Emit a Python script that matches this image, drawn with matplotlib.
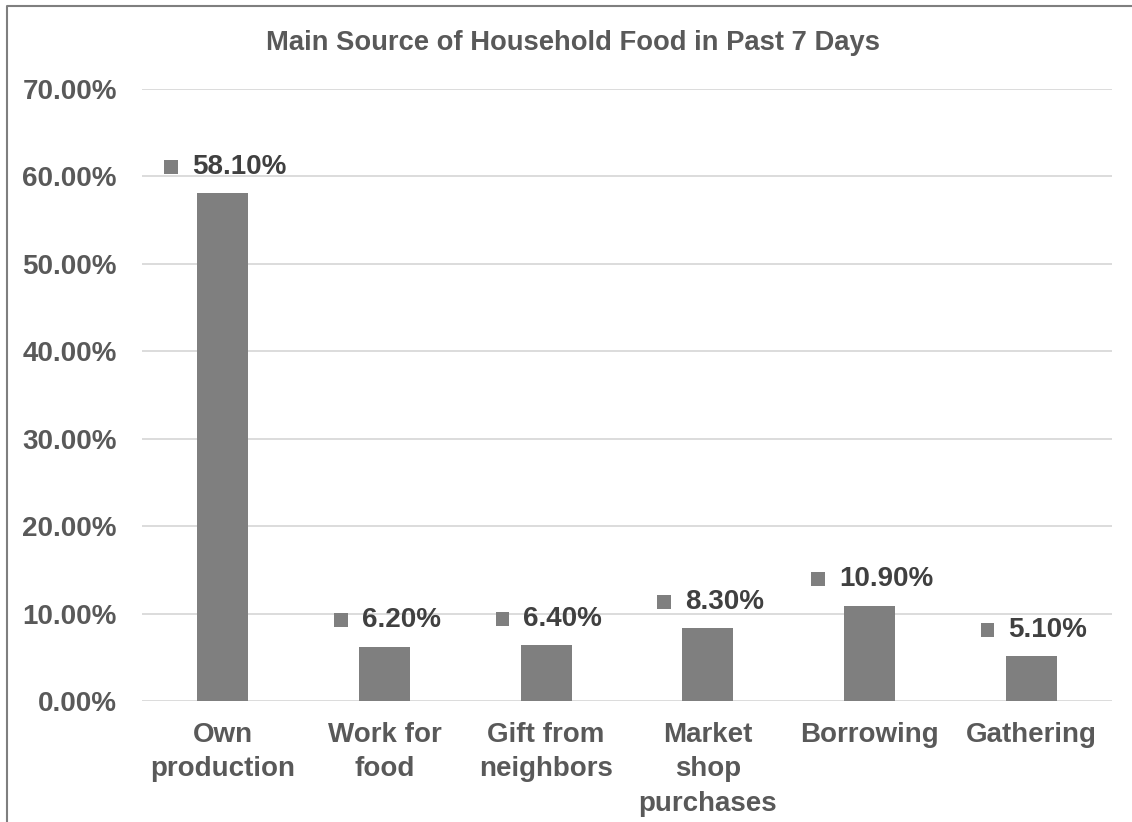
import matplotlib.pyplot as plt
from matplotlib.lines import Line2D
from matplotlib.patches import Rectangle
from matplotlib.offsetbox import AnnotationBbox, DrawingArea, HPacker, TextArea

plt.rcParams["font.family"] = ["Liberation Sans", "DejaVu Sans"]
plt.rcParams["font.weight"] = "bold"

categories = ["Own\nproduction", "Work for\nfood", "Gift from\nneighbors",
              "Market\nshop\npurchases", "Borrowing", "Gathering"]
shares = [0.581, 0.062, 0.064, 0.083, 0.109, 0.051]
yticks = [0.0, 0.1, 0.2, 0.3, 0.4, 0.5, 0.6, 0.7]

BAR = "#7f7f7f"
INK = "#595959"
LABEL_INK = "#404040"
GRID = "#d9d9d9"
FS = 20

fig = plt.figure(figsize=(11.32, 8.22), dpi=100)
ax = fig.add_axes([0.1254, 0.1472, 0.8569, 0.7445])

x = list(range(len(categories)))
ax.bar(x, shares, width=0.315, color=BAR, zorder=2)

ax.set_xlim(-0.5, len(categories) - 0.5)
ax.set_ylim(0, 0.7)
ax.set_yticks(yticks)
ax.set_yticklabels([f"{t * 100:.2f}%" for t in yticks])
ax.set_xticks(x)
ax.set_xticklabels(categories, linespacing=1.42)
ax.tick_params(axis="y", length=0, pad=18, labelsize=FS, labelcolor=INK)
ax.tick_params(axis="x", length=0, pad=15, labelsize=FS, labelcolor=INK)
ax.grid(axis="y", color=GRID, linewidth=1.3, zorder=0)
for side in ("top", "right", "left", "bottom"):
    ax.spines[side].set_visible(False)

# data labels: small legend-key square followed by the value
for xi, v in zip(x, shares):
    key = DrawingArea(10, 10, 0, 0)
    key.add_artist(Rectangle((0, 0), 10, 10, facecolor=BAR, edgecolor="none"))
    txt = TextArea(f"{v * 100:.2f}%",
                   textprops=dict(fontsize=FS, color=LABEL_INK, fontweight="bold"))
    box = HPacker(children=[key, txt], align="center", pad=0, sep=10)
    ab = AnnotationBbox(box, (xi, v), xybox=(2, 19), xycoords="data",
                        boxcoords="offset points", box_alignment=(0.5, 0.5),
                        frameon=False, annotation_clip=False)
    ax.add_artist(ab)

fig.text(0.5058, 0.948, "Main Source of Household Food in Past 7 Days",
         ha="center", va="center", fontsize=19.7, color=INK, fontweight="bold")

# chart-area frame along the left and top edges
fx = 7 / 1132
fy = 1 - 6.5 / 822
fig.add_artist(Line2D([fx, fx, 1.0], [0.0, fy, fy], transform=fig.transFigure,
                      color="#7f7f7f", linewidth=1.5))

fig.savefig("out.png", dpi=100, facecolor="white")
